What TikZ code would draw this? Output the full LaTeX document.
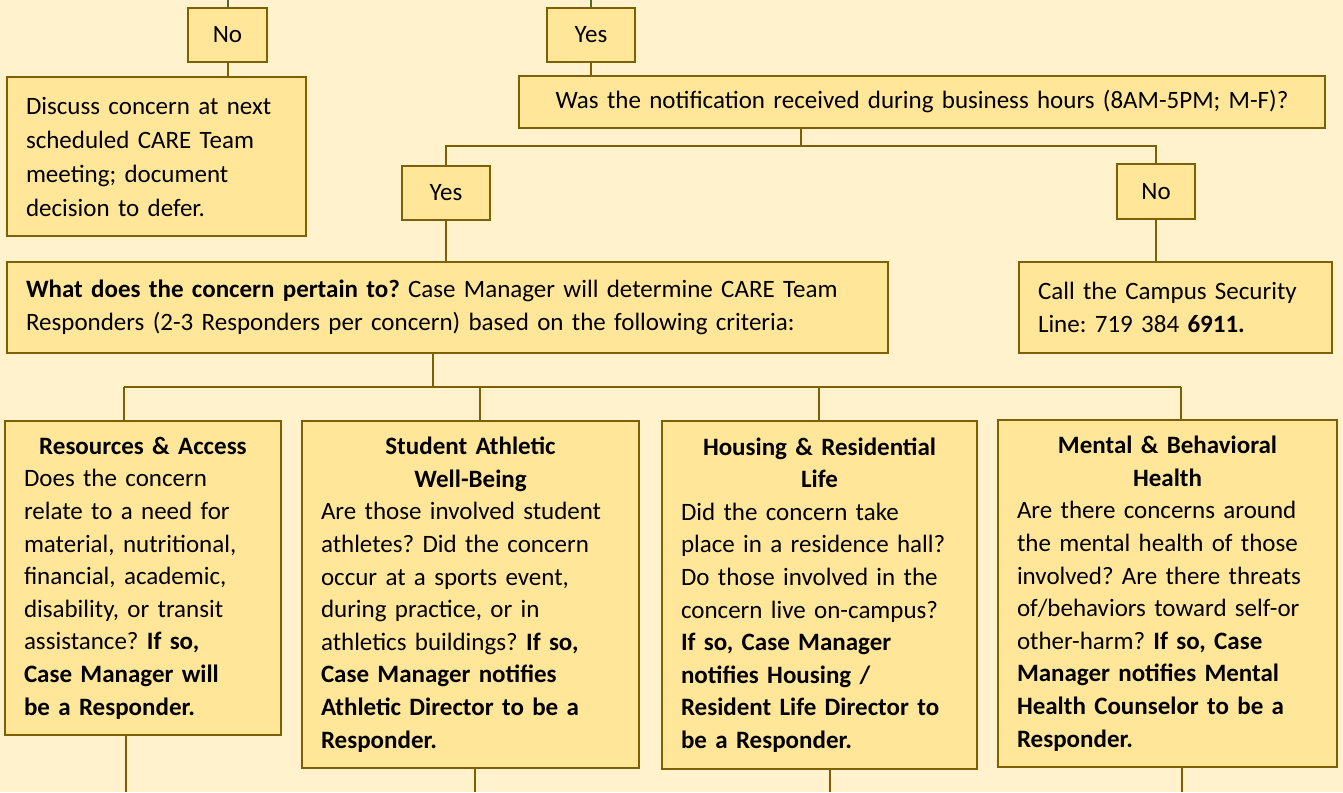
\documentclass[tikz,border=0pt]{standalone}
\usepackage{fontspec}
\setmainfont{Carlito}
\usetikzlibrary{positioning}

\definecolor{bgyellow}{HTML}{FFF2CC}
\definecolor{boxyellow}{HTML}{FFE699}
\definecolor{boxline}{HTML}{7F6000}
\definecolor{topline}{HTML}{4F6B2F}

\hyphenpenalty=10000
\exhyphenpenalty=10000
\frenchspacing

\begin{document}
\begin{tikzpicture}[x=1pt,y=-1pt,
    box/.style={draw=boxline, fill=boxyellow, line width=2pt, inner xsep=19pt, inner ysep=0pt,
        align=left, font=\fontsize{25}{32.6}\selectfont},
    answer/.style={draw=boxline, fill=boxyellow, line width=2pt, inner sep=0pt,
        font=\fontsize{25}{32.6}\selectfont},
    link/.style={draw=boxline, line width=2pt},
    toplink/.style={draw=topline, line width=2pt}]

    % Background
    \fill[bgyellow] (0,0) rectangle (1343,792);
    \useasboundingbox (0,0) rectangle (1343,792);

    % Top answers
    \node[answer, minimum width=79pt, minimum height=54pt] (noA) at (227.5,35) {No};
    \node[answer, minimum width=88pt, minimum height=54pt] (yesA) at (591,35) {Yes};
    \coordinate (inNo) at (227.5,0);
    \coordinate (inYes) at (591,0);
    \draw[toplink] (inNo) -- (noA.north);
    \draw[toplink] (inYes) -- (yesA.north);

    % Defer
    \node[box, font=\fontsize{25}{34}\selectfont, text width=261pt, minimum height=159pt] (defer) at (156.5,156.5)
        {Discuss concern at next\\scheduled CARE Team\\meeting; document\\decision to defer.};
    \draw[link] (noA.south) -- (noA.south |- defer.north);

    % Business hours question
    \node[box, align=center, text width=768pt, minimum height=52pt] (hours) at (922,102)
        {Was the notification received during business hours (8AM-5PM; M-F)?};
    \draw[link] (yesA.south) -- (yesA.south |- hours.north);

    \node[answer, minimum width=88pt, minimum height=54pt] (yesB) at (446,193) {Yes};
    \node[answer, minimum width=78pt, minimum height=55pt] (noB) at (1156,191.5) {No};
    \coordinate (split) at (801,146);
    \draw[link] (hours.south -| split) -- (split) -| (yesB.north);
    \draw[link] (split) -| (noB.north);

    % Pertains / security
    \node[box, text width=843pt, minimum height=91pt] (pertain) at (447.5,307.5)
        {\textbf{What does the concern pertain to?} Case Manager will determine CARE Team\\
         Responders (2-3 Responders per concern) based on the following criteria:};
    \node[box, text width=275pt, minimum height=91pt] (security) at (1175.5,307.5)
        {Call the Campus Security\\Line: 719 384 \textbf{6911.}};
    \draw[link] (yesB.south) -- (yesB.south |- pertain.north);
    \draw[link] (noB.south) -- (noB.south |- security.north);

    % Criteria
    \node[box, text width=238pt, minimum height=314pt] (crit1) at (143,578)
        {{\centering\bfseries Resources \& Access\par}
         Does the concern\\relate to a need for\\material, nutritional,\\financial, academic,\\
         disability, or transit\\assistance? \textbf{If so,}\\\textbf{Case Manager will}\\
         \textbf{be a Responder.}};
    \node[box, text width=299pt, minimum height=347pt] (crit2) at (470.5,594.5)
        {{\centering\bfseries Student Athletic\\Well-Being\par}
         Are those involved student\\athletes? Did the concern\\occur at a sports event,\\
         during practice, or in\\athletics buildings? \textbf{If so,}\\
         \textbf{Case Manager notifies}\\\textbf{Athletic Director to be a}\\\textbf{Responder.}};
    \node[box, text width=277pt, minimum height=348pt] (crit3) at (819.5,595)
        {{\centering\bfseries Housing \& Residential\\Life\par}
         Did the concern take\\place in a residence hall?\\Do those involved in the\\
         concern live on-campus?\\\textbf{If so, Case Manager}\\\textbf{notifies Housing /}\\
         \textbf{Resident Life Director to}\\\textbf{be a Responder.}};
    \node[box, text width=301pt, minimum height=347pt] (crit4) at (1167.5,593.5)
        {{\centering\bfseries Mental \& Behavioral\\Health\par}
         Are there concerns around\\the mental health of those\\involved? Are there threats\\
         of/behaviors toward self-or\\other-harm? \textbf{If so, Case}\\
         \textbf{Manager notifies Mental}\\\textbf{Health Counselor to be a}\\\textbf{Responder.}};

    \coordinate (fork) at (433,387);
    \coordinate (j1) at (124,387);
    \coordinate (j2) at (480,387);
    \coordinate (j3) at (819,387);
    \coordinate (j4) at (1181,387);
    \draw[link] (pertain.south -| fork) -- (fork);
    \draw[link] (j1) -- (j4);
    \foreach \n in {1,...,4}
        \draw[link] (j\n) -- (j\n |- crit\n.north);

    % Onward lines
    \coordinate (out1) at (126,792);
    \coordinate (out2) at (475,792);
    \coordinate (out3) at (830,792);
    \coordinate (out4) at (1182,792);
    \foreach \n in {1,...,4}
        \draw[link] (crit\n.south -| out\n) -- (out\n);
\end{tikzpicture}
\end{document}
